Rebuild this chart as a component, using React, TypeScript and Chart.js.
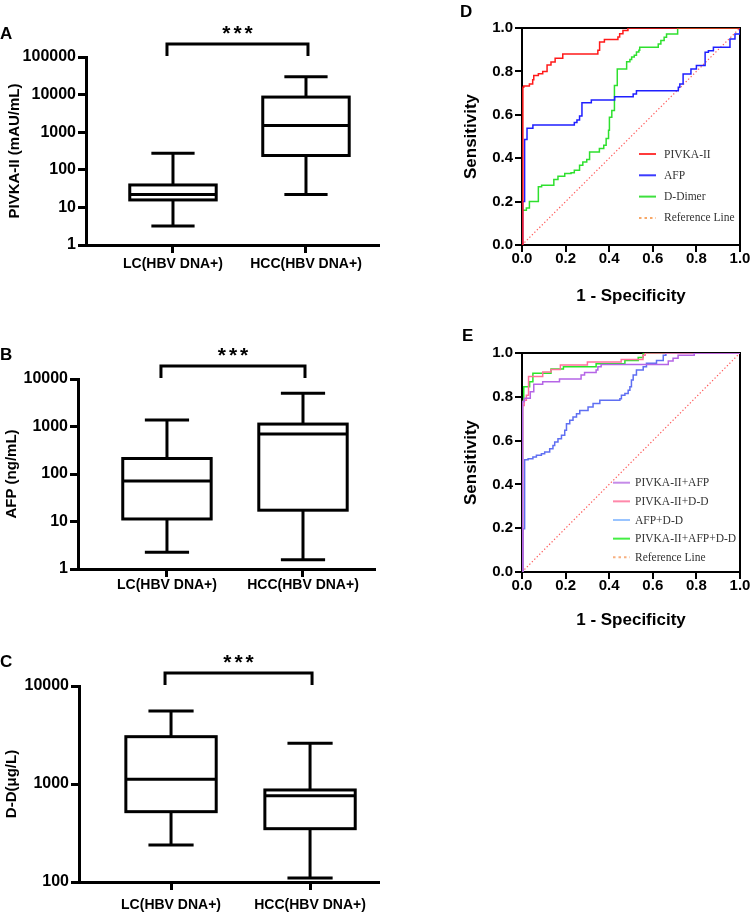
import React, { useEffect, useRef } from 'react';
import { Chart, registerables } from 'chart.js';
Chart.register(...registerables);

const SANS = '"Liberation Sans", Arial, Helvetica, sans-serif';
const SERIF = '"Liberation Serif", "Times New Roman", serif';

// ---------- Box plot data: [min, Q1, median, Q3, max] ----------
const groups = ['LC(HBV DNA+)', 'HCC(HBV DNA+)'];
const pivkaLC = [3.2, 15.8, 22, 39.5, 275];
const pivkaHCC = [22, 240, 1500, 8600, 30000];
const afpLC = [2.25, 11.3, 71, 212, 1365];
const afpHCC = [1.57, 17.3, 692, 1125, 5000];
const ddLC = [239, 522, 1116, 3040, 5560];
const ddHCC = [110, 350, 760, 869, 2600];

const pivkaTicks = [1, 10, 100, 1000, 10000, 100000];
const afpTicks = [1, 10, 100, 1000, 10000];
const ddTicks = [100, 1000, 10000];
const sigLabel = '***';

// ---------- ROC data ----------
const rocTicks = [0, 0.2, 0.4, 0.6, 0.8, 1.0];

const dPivkaFpr = [0, 0.004, 0.008, 0.034, 0.049, 0.054, 0.075, 0.095, 0.115, 0.133, 0.152, 0.187, 0.348, 0.356, 0.378, 0.44, 0.448, 0.463, 0.486, 1.0];
const dPivkaTpr = [0, 0.727, 0.733, 0.742, 0.762, 0.781, 0.789, 0.80, 0.83, 0.843, 0.861, 0.88, 0.897, 0.935, 0.947, 0.958, 0.974, 0.989, 1.0, 1.0];

const dAfpFpr = [0, 0.003, 0.012, 0.023, 0.05, 0.24, 0.252, 0.264, 0.275, 0.318, 0.425, 0.51, 0.525, 0.717, 0.724, 0.739, 0.775, 0.80, 0.84, 0.855, 0.878, 0.954, 0.977, 1.0];
const dAfpTpr = [0, 0.2, 0.486, 0.538, 0.553, 0.565, 0.576, 0.595, 0.655, 0.668, 0.683, 0.696, 0.711, 0.727, 0.742, 0.788, 0.811, 0.827, 0.888, 0.895, 0.911, 0.949, 0.972, 1.0];

const dDimerFpr = [0, 0, 0.02, 0.034, 0.075, 0.09, 0.146, 0.165, 0.196, 0.225, 0.24, 0.264, 0.279, 0.297, 0.31, 0.355, 0.375, 0.386, 0.397, 0.401, 0.412, 0.424, 0.437, 0.48, 0.495, 0.503, 0.515, 0.525, 0.536, 0.54, 0.625, 0.637, 0.652, 0.663, 0.714, 1.0];
const dDimerTpr = [0, 0.16, 0.17, 0.2, 0.268, 0.275, 0.302, 0.317, 0.33, 0.333, 0.345, 0.368, 0.383, 0.394, 0.429, 0.445, 0.46, 0.491, 0.529, 0.589, 0.62, 0.735, 0.811, 0.845, 0.855, 0.866, 0.874, 0.889, 0.897, 0.911, 0.926, 0.942, 0.957, 0.972, 1.0, 1.0];

const ePaFpr = [0, 0.003, 0.011, 0.038, 0.054, 0.095, 0.172, 0.271, 0.287, 0.34, 0.348, 0.363, 0.671, 0.693, 0.716, 0.79, 1.0];
const ePaTpr = [0, 0.778, 0.793, 0.823, 0.857, 0.869, 0.881, 0.899, 0.911, 0.922, 0.937, 0.948, 0.963, 0.976, 0.99, 1.0, 1.0];

const ePdFpr = [0, 0.003, 0.01, 0.02, 0.03, 0.095, 0.133, 0.176, 0.3, 0.455, 0.555, 0.565, 1.0];
const ePdTpr = [0, 0.76, 0.784, 0.807, 0.893, 0.913, 0.925, 0.945, 0.959, 0.97, 0.99, 1.0, 1.0];

const eAdFpr = [0, 0.005, 0.012, 0.028, 0.05, 0.066, 0.089, 0.104, 0.127, 0.142, 0.15, 0.165, 0.181, 0.196, 0.204, 0.219, 0.234, 0.25, 0.265, 0.303, 0.326, 0.357, 0.449, 0.456, 0.472, 0.487, 0.495, 0.502, 0.51, 0.525, 0.556, 0.571, 0.617, 0.648, 0.66, 1.0];
const eAdTpr = [0, 0.198, 0.513, 0.517, 0.525, 0.533, 0.54, 0.548, 0.563, 0.578, 0.594, 0.609, 0.624, 0.647, 0.677, 0.693, 0.708, 0.723, 0.738, 0.753, 0.769, 0.784, 0.791, 0.807, 0.815, 0.83, 0.846, 0.877, 0.9, 0.922, 0.937, 0.953, 0.966, 0.99, 1.0, 1.0];

const eAllFpr = [0, 0.002, 0.008, 0.035, 0.05, 0.133, 0.19, 0.34, 0.472, 0.533, 0.556, 1.0];
const eAllTpr = [0, 0.778, 0.846, 0.869, 0.907, 0.927, 0.937, 0.951, 0.966, 0.98, 1.0, 1.0];

const refFpr = [0, 1];
const refTpr = [0, 1];

// ---------- plugins ----------
const boxPlugin = {
  id: 'boxes',
  afterDatasetsDraw(chart: any, _a: any, o: any) {
    const { ctx, scales } = chart;
    const x = scales.x, y = scales.y;
    ctx.save();
    ctx.strokeStyle = '#000';
    ctx.lineWidth = 3;
    const line = (x0: number, y0: number, x1: number, y1: number) => {
      ctx.beginPath(); ctx.moveTo(x0, y0); ctx.lineTo(x1, y1); ctx.stroke();
    };
    (o.stats as number[][]).forEach((s, i) => {
      const cx = x.getPixelForValue(i);
      const half = x.getPixelForValue(i + 0.325) - cx;
      const cap = half / 2;
      const [mn, q1, md, q3, mx] = s.map((v) => y.getPixelForValue(v));
      line(cx, mx, cx, q3);
      line(cx, q1, cx, mn);
      line(cx - cap, mx, cx + cap, mx);
      line(cx - cap, mn, cx + cap, mn);
      ctx.strokeRect(cx - half, q3, 2 * half, q1 - q3);
      line(cx - half, md, cx + half, md);
    });
    ctx.restore();
  },
};

const panelPlugin = {
  id: 'panelText',
  afterDraw(chart: any, _a: any, o: any) {
    const { ctx, chartArea, scales } = chart;
    ctx.save();
    ctx.fillStyle = '#000';
    ctx.font = `bold 17px ${SANS}`;
    ctx.textBaseline = 'middle';
    ctx.textAlign = 'left';
    ctx.fillText(o.letter, o.letterX, o.letterY);
    if (o.sig) {
      const x0 = scales.x.getPixelForValue(0) - 6;
      const x1 = scales.x.getPixelForValue(1) + 2;
      const yTop = chartArea.top - 13;
      const yBot = chartArea.top - 1;
      ctx.strokeStyle = '#000';
      ctx.lineWidth = 3;
      ctx.beginPath();
      ctx.moveTo(x0, yBot); ctx.lineTo(x0, yTop); ctx.lineTo(x1, yTop); ctx.lineTo(x1, yBot);
      ctx.stroke();
      ctx.font = `bold 21px ${SANS}`;
      ctx.textAlign = 'center';
      ctx.textBaseline = 'alphabetic';
      (ctx as any).letterSpacing = '3px';
      ctx.fillText(o.sig, (x0 + x1) / 2 + 1.5, yTop - 4);
    }
    ctx.restore();
  },
};

const framePlugin = {
  id: 'frame',
  beforeDatasetsDraw(chart: any) {
    const { ctx, chartArea: a } = chart;
    ctx.save();
    ctx.strokeStyle = '#000';
    ctx.lineWidth = 2;
    ctx.beginPath();
    ctx.moveTo(a.left, a.top);
    ctx.lineTo(a.right, a.top);
    ctx.lineTo(a.right, a.bottom);
    ctx.stroke();
    ctx.restore();
  },
};

const rocLegendPlugin = {
  id: 'rocLegend',
  afterDraw(chart: any, _a: any, o: any) {
    const { ctx } = chart;
    ctx.save();
    ctx.font = `${o.size}px ${SERIF}`;
    ctx.textBaseline = 'middle';
    ctx.textAlign = 'left';
    chart.data.datasets.forEach((ds: any, i: number) => {
      const y = o.y0 + i * o.step;
      ctx.strokeStyle = ds.legendColor;
      ctx.lineWidth = 2;
      ctx.setLineDash(ds.legendDash || []);
      ctx.beginPath(); ctx.moveTo(o.x0, y); ctx.lineTo(o.x1, y); ctx.stroke();
      ctx.setLineDash([]);
      ctx.fillStyle = '#333';
      ctx.fillText(ds.label, o.tx, y + 0.5);
    });
    ctx.restore();
  },
};

// ---------- config builders ----------
function boxConfig(p: any) {
  const axisGrid = { display: true, drawOnChartArea: false, drawTicks: true, tickLength: 8, lineWidth: 3, color: '#000' };
  const axisBorder = { display: true, width: 3, color: '#000' };
  return {
    type: 'scatter',
    data: {
      datasets: [{ data: p.stats.map((s: number[], i: number) => ({ x: i, y: s[2] })), pointRadius: 0, showLine: false }],
    },
    options: {
      responsive: false,
      animation: false,
      devicePixelRatio: 1,
      layout: { padding: { left: 0, top: p.padTop, right: p.padRight, bottom: 0 } },
      plugins: {
        legend: { display: false },
        tooltip: { enabled: false },
        boxes: { stats: p.stats },
        panelText: { letter: p.letter, letterX: p.letterX, letterY: p.letterY, sig: sigLabel },
      },
      scales: {
        x: {
          type: 'linear',
          bounds: 'data',
          min: p.xMin,
          max: p.xMax,
          afterBuildTicks: (s: any) => { s.ticks = groups.map((_g, i) => ({ value: i })); },
          afterFit: (s: any) => { s.height = p.xHeight; },
          ticks: {
            callback: (v: any) => groups[Math.round(Number(v))] ?? '',
            font: { family: SANS, size: 14, weight: 'bold', lineHeight: 1 },
            color: '#000',
            padding: p.catPad,
            maxRotation: 0,
            autoSkip: false,
          },
          grid: axisGrid,
          border: axisBorder,
        },
        y: {
          type: 'logarithmic',
          min: p.yTicks[0],
          max: p.yTicks[p.yTicks.length - 1],
          afterBuildTicks: (s: any) => { s.ticks = p.yTicks.map((v: number) => ({ value: v })); },
          afterFit: (s: any) => { s.width = p.yWidth; },
          ticks: {
            callback: (v: any) => String(v),
            font: { family: SANS, size: 16, weight: 'bold' },
            color: '#000',
            padding: 2,
            autoSkip: false,
          },
          grid: axisGrid,
          border: axisBorder,
          title: {
            display: true,
            text: p.title,
            font: { family: SANS, size: 15, weight: 'bold' },
            color: '#000',
            padding: { top: p.titlePad, bottom: 0 },
          },
        },
      },
    },
    plugins: [boxPlugin, panelPlugin],
  };
}

function rocConfig(p: any) {
  const grid = { display: true, drawOnChartArea: false, drawTicks: true, tickLength: 7, lineWidth: 2, color: '#000' };
  const border = { display: true, width: 2, color: '#000' };
  const tickFont = { family: SANS, size: 15, weight: 'bold', lineHeight: 1 };
  const titleFont = { family: SANS, size: 17, weight: 'bold' };
  return {
    type: 'line',
    data: {
      datasets: p.series.map((s: any) => ({
        label: s.label,
        data: s.fpr.map((x: number, i: number) => ({ x, y: s.tpr[i] })),
        borderColor: s.color,
        legendColor: s.legendColor,
        legendDash: s.legendDash,
        borderWidth: s.ref ? 1.2 : 1.5,
        borderDash: s.ref ? [1.3, 2.2] : [],
        pointRadius: 0,
        stepped: s.ref ? false : true,
        fill: false,
        tension: 0,
      })),
    },
    options: {
      responsive: false,
      animation: false,
      devicePixelRatio: 1,
      layout: { padding: { left: 0, top: p.padTop, right: p.padRight, bottom: 0 } },
      plugins: {
        legend: { display: false },
        tooltip: { enabled: false },
        rocLegend: p.legend,
        panelText: { letter: p.letter, letterX: p.letterX, letterY: p.letterY },
      },
      scales: {
        x: {
          type: 'linear',
          bounds: 'data',
          min: 0,
          max: 1,
          afterBuildTicks: (s: any) => { s.ticks = rocTicks.map((v) => ({ value: v })); },
          afterFit: (s: any) => { s.height = p.xHeight; },
          ticks: { callback: (v: any) => Number(v).toFixed(1), font: tickFont, color: '#000', padding: -1, maxRotation: 0, autoSkip: false },
          grid,
          border,
          title: { display: true, text: '1 - Specificity', font: titleFont, color: '#000', padding: { top: 0, bottom: p.xTitlePad } },
        },
        y: {
          type: 'linear',
          bounds: 'data',
          min: 0,
          max: 1,
          afterBuildTicks: (s: any) => { s.ticks = rocTicks.map((v) => ({ value: v })); },
          afterFit: (s: any) => { s.width = p.yWidth; },
          ticks: { callback: (v: any) => Number(v).toFixed(1), font: { family: SANS, size: 15, weight: 'bold' }, color: '#000', padding: 2, autoSkip: false },
          grid,
          border,
          title: { display: true, text: 'Sensitivity', font: titleFont, color: '#000', padding: { top: p.yTitlePad, bottom: 0 } },
        },
      },
    },
    plugins: [framePlugin, rocLegendPlugin, panelPlugin],
  };
}

// ---------- panel configs ----------
const panels = [
  {
    left: 0, top: 0, width: 380, height: 290,
    config: () => boxConfig({
      stats: [pivkaLC, pivkaHCC], yTicks: pivkaTicks, title: 'PIVKA-II (mAU/mL)',
      yWidth: 86, xHeight: 45, padTop: 57, padRight: 1, xMin: -0.654, xMax: 1.549,
      titlePad: 6, catPad: 4, letter: 'A', letterX: 0, letterY: 34,
    }),
  },
  {
    left: 0, top: 330, width: 380, height: 270,
    config: () => boxConfig({
      stats: [afpLC, afpHCC], yTicks: afpTicks, title: 'AFP (ng/mL)',
      yWidth: 78, xHeight: 31, padTop: 49, padRight: 6, xMin: -0.654, xMax: 1.522,
      titlePad: 2.7, catPad: 1, letter: 'B', letterX: 0, letterY: 25,
    }),
  },
  {
    left: 0, top: 630, width: 380, height: 283,
    config: () => boxConfig({
      stats: [ddLC, ddHCC], yTicks: ddTicks, title: 'D-D(μg/L)',
      yWidth: 79, xHeight: 31, padTop: 56, padRight: 1, xMin: -0.662, xMax: 1.496,
      titlePad: 2.7, catPad: 8, letter: 'C', letterX: 0, letterY: 32,
    }),
  },
  {
    left: 440, top: 0, width: 312, height: 310,
    config: () => rocConfig({
      series: [
        { label: 'PIVKA-II', fpr: dPivkaFpr, tpr: dPivkaTpr, color: '#ff1a1a', legendColor: '#ff3b3b' },
        { label: 'AFP', fpr: dAfpFpr, tpr: dAfpTpr, color: '#1f1fff', legendColor: '#3b3bff' },
        { label: 'D-Dimer', fpr: dDimerFpr, tpr: dDimerTpr, color: '#2ee02e', legendColor: '#3ee03e' },
        { label: 'Reference Line', fpr: refFpr, tpr: refTpr, color: '#ff5a5a', legendColor: '#f8a868', legendDash: [2.5, 3], ref: true },
      ],
      yWidth: 82, xHeight: 65, padTop: 28, padRight: 12, xTitlePad: 3, yTitlePad: 21.5,
      letter: 'D', letterX: 20, letterY: 12,
      legend: { x0: 199, x1: 216, tx: 224, y0: 154, step: 21.3, size: 11.5 },
    }),
  },
  {
    left: 440, top: 322, width: 312, height: 310,
    config: () => rocConfig({
      series: [
        { label: 'PIVKA-II+AFP', fpr: ePaFpr, tpr: ePaTpr, color: '#b565e6', legendColor: '#c58be8' },
        { label: 'PIVKA-II+D-D', fpr: ePdFpr, tpr: ePdTpr, color: '#ff6f9c', legendColor: '#ff88aa' },
        { label: 'AFP+D-D', fpr: eAdFpr, tpr: eAdTpr, color: '#5f6ff2', legendColor: '#99c4ff' },
        { label: 'PIVKA-II+AFP+D-D', fpr: eAllFpr, tpr: eAllTpr, color: '#28e628', legendColor: '#44ee44' },
        { label: 'Reference Line', fpr: refFpr, tpr: refTpr, color: '#ff5a5a', legendColor: '#f8b080', legendDash: [2.5, 3], ref: true },
      ],
      yWidth: 82, xHeight: 60, padTop: 31, padRight: 12, xTitlePad: 1.8, yTitlePad: 21.5,
      letter: 'E', letterX: 22, letterY: 14.7,
      legend: { x0: 173, x1: 190, tx: 195, y0: 160.7, step: 18.65, size: 11.5 },
    }),
  },
];

function ChartCanvas(props: { left: number; top: number; width: number; height: number; config: () => any }) {
  const ref = useRef<HTMLCanvasElement>(null);
  useEffect(() => {
    const chart = new Chart(ref.current as HTMLCanvasElement, props.config());
    return () => chart.destroy();
  }, []);
  return (
    <canvas
      ref={ref}
      width={props.width}
      height={props.height}
      style={{ position: 'absolute', left: props.left, top: props.top, width: props.width, height: props.height }}
    />
  );
}

export default function App() {
  return (
    <div style={{ position: 'absolute', left: 0, top: 0, width: 752, height: 913, background: '#fff' }}>
      {panels.map((p, i) => (
        <ChartCanvas key={i} left={p.left} top={p.top} width={p.width} height={p.height} config={p.config} />
      ))}
    </div>
  );
}
